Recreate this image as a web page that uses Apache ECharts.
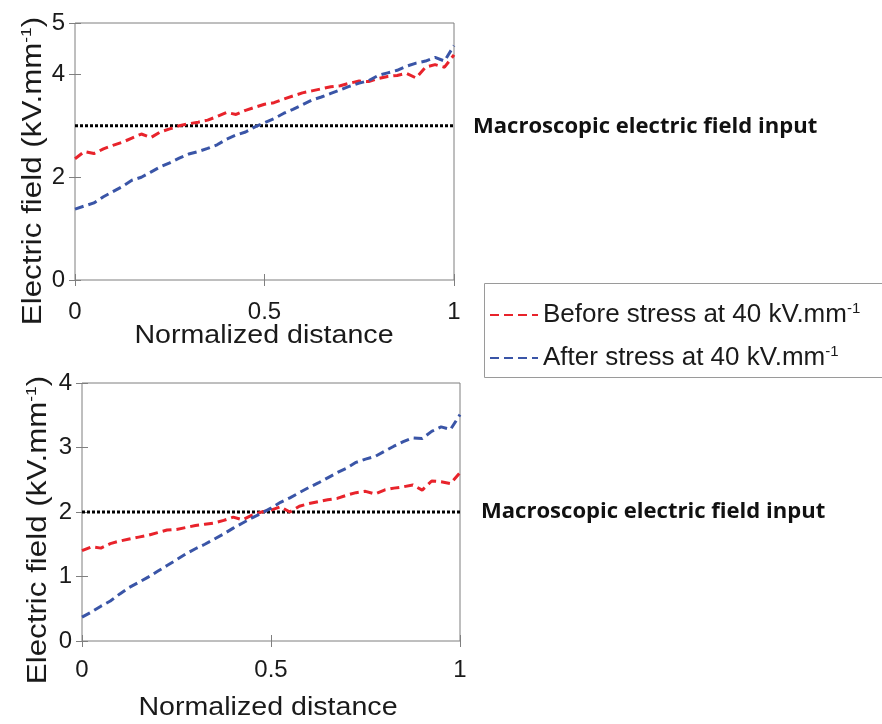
<!DOCTYPE html>
<html>
<head>
<meta charset="utf-8">
<script src="https://cdn.jsdelivr.net/npm/echarts@6/dist/echarts.min.js"></script>
<style>html,body{margin:0;padding:0;background:#fff;}#c{width:882px;height:724px;}</style>
</head>
<body>
<div id="c"></div>
<script>
// Normalized distance grid
const xs = [0,0.025,0.05,0.075,0.1,0.125,0.15,0.175,0.2,0.225,0.25,0.275,0.3,0.325,0.35,0.375,0.4,0.425,0.45,0.475,0.5,0.525,0.55,0.575,0.6,0.625,0.65,0.675,0.7,0.725,0.75,0.775,0.8,0.825,0.85,0.875,0.9,0.925,0.95,0.975,1];
// Top panel (input 3 kV/mm)
const topBefore = [2.36,2.50,2.46,2.55,2.62,2.68,2.76,2.84,2.77,2.88,2.94,3.00,3.04,3.07,3.11,3.18,3.26,3.22,3.30,3.36,3.42,3.45,3.52,3.58,3.64,3.68,3.72,3.76,3.78,3.83,3.87,3.86,3.92,3.96,3.98,4.02,3.93,4.14,4.19,4.14,4.38];
const topAfter = [1.38,1.44,1.50,1.62,1.72,1.82,1.94,2.00,2.10,2.20,2.28,2.37,2.45,2.50,2.56,2.63,2.74,2.82,2.88,2.98,3.06,3.14,3.24,3.32,3.41,3.50,3.56,3.63,3.70,3.77,3.83,3.88,3.98,4.03,4.08,4.16,4.22,4.26,4.33,4.26,4.56];
const topInput = 3;
// Bottom panel (input 2 kV/mm)
const botBefore = [1.40,1.46,1.44,1.51,1.55,1.58,1.61,1.64,1.68,1.72,1.73,1.76,1.79,1.81,1.83,1.87,1.92,1.88,1.95,2.00,2.03,2.08,2.00,2.09,2.13,2.16,2.19,2.21,2.26,2.30,2.32,2.28,2.34,2.37,2.39,2.42,2.34,2.48,2.47,2.44,2.61];
const botAfter = [0.37,0.45,0.54,0.62,0.73,0.83,0.91,0.99,1.08,1.17,1.26,1.35,1.43,1.50,1.58,1.66,1.75,1.83,1.91,1.98,2.06,2.15,2.22,2.30,2.38,2.45,2.53,2.61,2.68,2.77,2.82,2.86,2.94,3.02,3.09,3.15,3.14,3.25,3.32,3.28,3.51];
const botInput = 2;
const seriesNames = ['Before stress at 40 kV.mm', 'After stress at 40 kV.mm'];
const annotation = 'Macroscopic electric field input';
const xName = 'Normalized distance';

const RED = '#e8232b', BLUE = '#3a55a7', FRAME = '#7f7f7f';
const FONT = '"Liberation Sans", Arial, sans-serif';
const pairs = (ys) => xs.map((x, i) => [x, ys[i]]);

const chart = echarts.init(document.getElementById('c'), null, {renderer: 'canvas'});

function xAx(gi, pos, labels) {
  return {type: 'value', gridIndex: gi, position: pos, min: 0, max: 1, interval: 0.5,
    axisLine: {show: false},
    axisTick: {show: true, inside: true, length: 6, lineStyle: {color: FRAME}},
    splitLine: {show: false},
    axisLabel: {show: labels, color: '#1a1a1a', fontSize: 24, fontFamily: FONT, margin: gi === 0 ? 20 : 17,
      formatter: v => String(v)}};
}
function yAx(gi, pos, labels, max, interval) {
  return {type: 'value', gridIndex: gi, position: pos, min: 0, max: max, interval: interval,
    axisLine: {show: false},
    axisTick: {show: true, inside: true, length: 6, lineStyle: {color: FRAME}},
    splitLine: {show: false},
    axisLabel: {show: labels, color: '#1a1a1a', fontSize: 24, fontFamily: FONT, margin: 10}};
}
function dataSeries(name, color, data, xi, yi) {
  return {name: name, type: 'line', xAxisIndex: xi, yAxisIndex: yi, data: data,
    showSymbol: false, symbol: 'none', animation: false, z: 3,
    lineStyle: {color: color, width: 3, type: [9, 5]}, itemStyle: {color: color}};
}
function refSeries(val, xi, yi) {
  return {name: 'ref', type: 'line', xAxisIndex: xi, yAxisIndex: yi, data: [[0, val], [1, val]],
    showSymbol: false, symbol: 'none', animation: false, z: 2,
    lineStyle: {color: '#000', width: 3, type: [3, 2]}};
}
function yNameText(x, y) {
  return {type: 'text', x: x, y: y, rotation: Math.PI / 2, scaleX: 1.16,
    style: {text: '{a|Electric field (kV.mm}{s|-1}{a|)}', align: 'center', verticalAlign: 'middle',
      rich: {a: {fontSize: 27, fontFamily: FONT, fill: '#1a1a1a', lineHeight: 30},
             s: {fontSize: 15, fontFamily: FONT, fill: '#1a1a1a', verticalAlign: 'top', lineHeight: 30}}}};
}

chart.setOption({
  animation: false,
  grid: [
    {left: 75, top: 23, width: 379, height: 257, show: true, borderColor: FRAME, borderWidth: 1, backgroundColor: 'transparent'},
    {left: 82, top: 383, width: 378, height: 258, show: true, borderColor: FRAME, borderWidth: 1, backgroundColor: 'transparent'}
  ],
  xAxis: [xAx(0, 'bottom', true), xAx(0, 'top', false), xAx(1, 'bottom', true), xAx(1, 'top', false)],
  yAxis: [yAx(0, 'left', true, 5, 2), yAx(0, 'right', false, 5, 2), yAx(1, 'left', true, 4, 1), yAx(1, 'right', false, 4, 1)],
  legend: {
    data: seriesNames, orient: 'vertical', left: 484, top: 296, itemWidth: 48, itemHeight: 14, itemGap: 16,
    itemStyle: {opacity: 0},
    formatter: n => '{t|' + n + '}{s|-1}',
    textStyle: {rich: {t: {fontSize: 26, fontFamily: FONT, color: '#1a1a1a', lineHeight: 28},
                       s: {fontSize: 15, fontFamily: FONT, color: '#1a1a1a', verticalAlign: 'top', lineHeight: 28}}},
    selectedMode: false
  },
  series: [
    refSeries(topInput, 0, 0),
    dataSeries(seriesNames[0], RED, pairs(topBefore), 0, 0),
    dataSeries(seriesNames[1], BLUE, pairs(topAfter), 0, 0),
    refSeries(botInput, 2, 2),
    dataSeries(seriesNames[0], RED, pairs(botBefore), 2, 2),
    dataSeries(seriesNames[1], BLUE, pairs(botAfter), 2, 2)
  ],
  graphic: [
    yNameText(34, 171),
    yNameText(39, 530),
    {type: 'text', x: 264, y: 336, scaleX: 1.1, style: {text: xName, align: 'center', verticalAlign: 'middle', fontSize: 26, fontFamily: FONT, fill: '#1a1a1a'}},
    {type: 'text', x: 268, y: 708, scaleX: 1.1, style: {text: xName, align: 'center', verticalAlign: 'middle', fontSize: 26, fontFamily: FONT, fill: '#1a1a1a'}},
    {type: 'text', x: 473, y: 127, scaleX: 1.05, style: {text: annotation, align: 'left', verticalAlign: 'middle', fontSize: 21, fontWeight: 'bold', fontFamily: '"Open Sans", sans-serif', fill: '#111'}},
    {type: 'text', x: 481, y: 512, scaleX: 1.05, style: {text: annotation, align: 'left', verticalAlign: 'middle', fontSize: 21, fontWeight: 'bold', fontFamily: '"Open Sans", sans-serif', fill: '#111'}},
    {type: 'rect', shape: {x: 484.5, y: 283.5, width: 420, height: 94}, style: {fill: 'none', stroke: '#9a9a9a', lineWidth: 1}}
  ]
});
</script>
</body>
</html>
